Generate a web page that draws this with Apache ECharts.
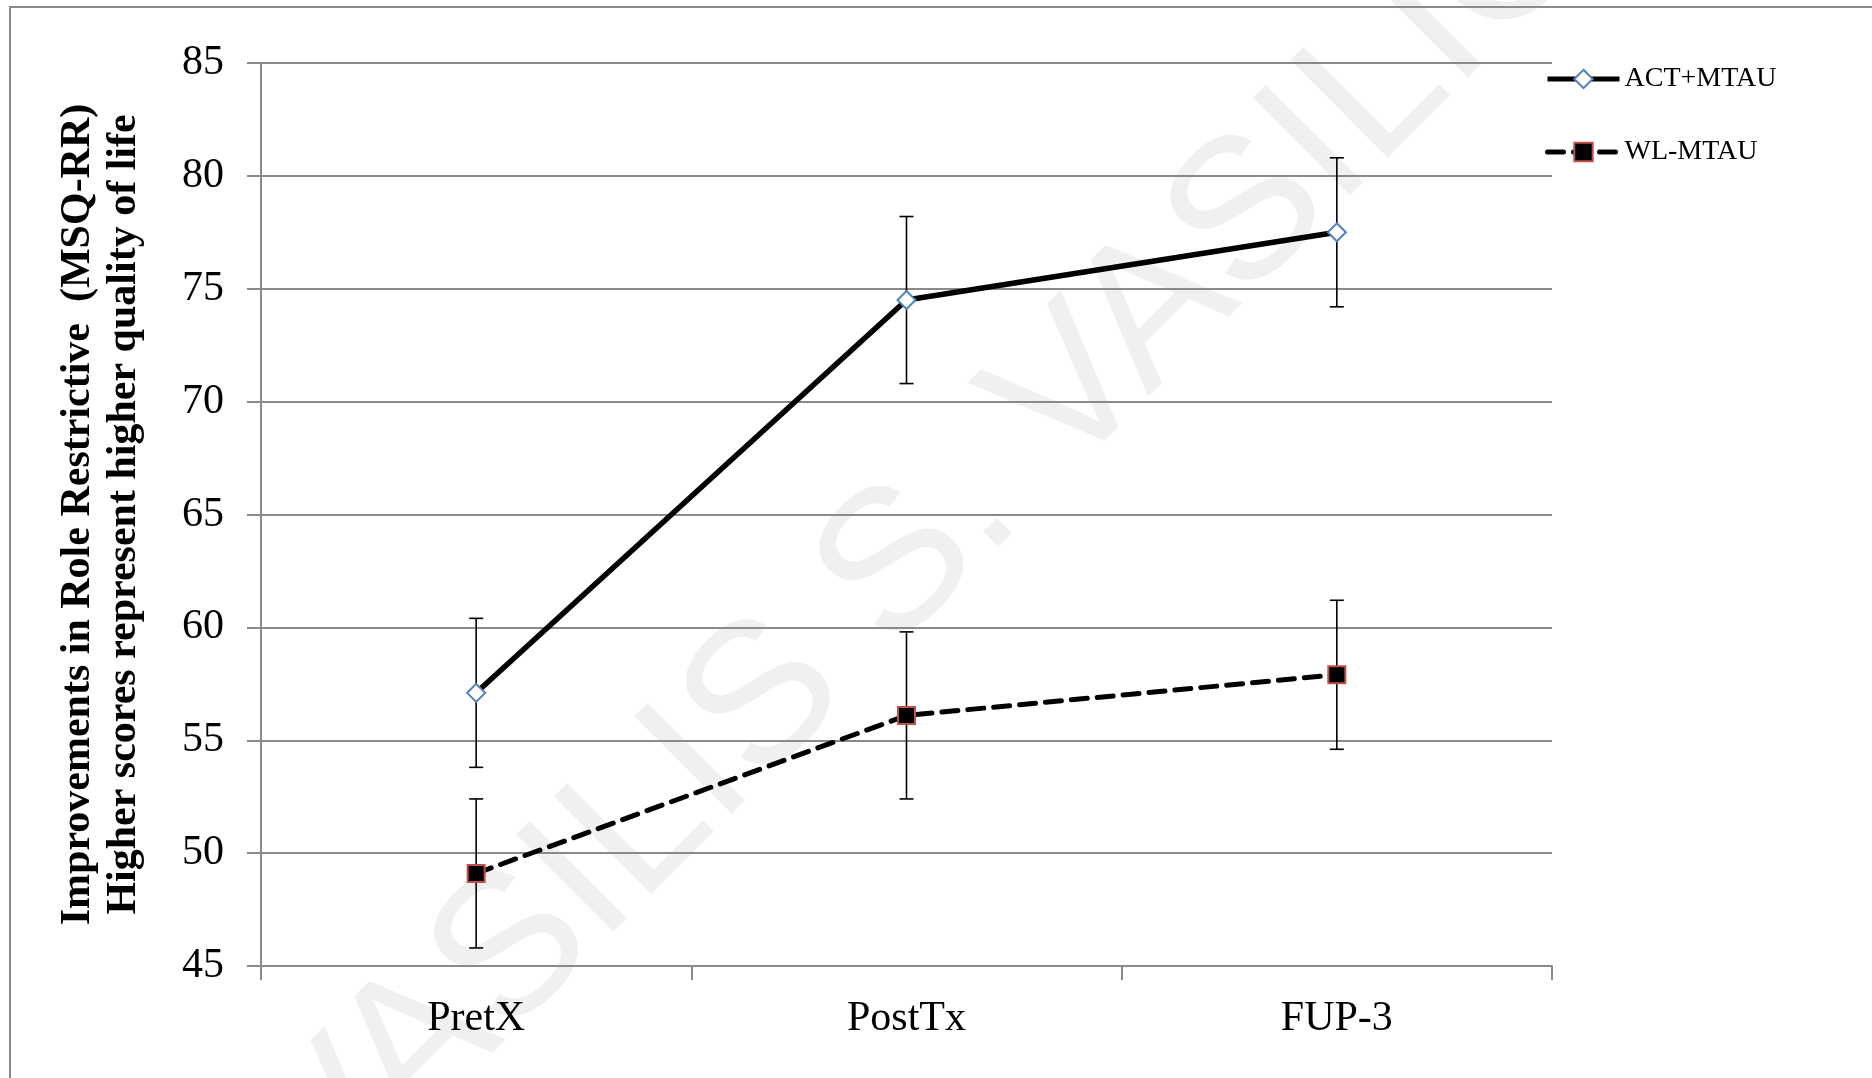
<!DOCTYPE html>
<html>
<head>
<meta charset="utf-8">
<script src="https://cdn.jsdelivr.net/npm/echarts@6/dist/echarts.min.js"></script>
<style>
  html, body { margin: 0; padding: 0; background: #fff; }
  #chart { width: 1872px; height: 1078px; }
</style>
</head>
<body>
<div id="chart"></div>
<script>
const categories = ['PretX', 'PostTx', 'FUP-3']
const actMean = [57.1, 74.5, 77.5]
const actErr = [3.3, 3.7, 3.3]
const wlMean = [49.1, 56.1, 57.9]
const wlErr = [3.3, 3.7, 3.3]
const yMin = 45
const yMax = 85
const yStep = 5

const serif = "'Liberation Serif', 'Times New Roman', serif"
const gray = '#8a8a8a'

const errData = (mean, err) => mean.map((m, i) => [i, m - err[i], m + err[i]])

const errorBars = (name, mean, err) => ({
  name: name + ' err',
  type: 'custom',
  z: 1,
  silent: true,
  encode: { x: 0, y: [1, 2] },
  data: errData(mean, err),
  renderItem: (params, api) => {
    const lo = api.coord([api.value(0), api.value(1)])
    const hi = api.coord([api.value(0), api.value(2)])
    const w = 7
    const st = { stroke: '#000', lineWidth: 1.6 }
    return {
      type: 'group',
      children: [
        { type: 'line', shape: { x1: lo[0], y1: lo[1], x2: hi[0], y2: hi[1] }, style: st },
        { type: 'line', shape: { x1: hi[0] - w, y1: hi[1], x2: hi[0] + w, y2: hi[1] }, style: st },
        { type: 'line', shape: { x1: lo[0] - w, y1: lo[1], x2: lo[0] + w, y2: lo[1] }, style: st }
      ]
    }
  }
})

const chart = echarts.init(document.getElementById('chart'))
chart.setOption({
  backgroundColor: '#fff',
  animation: false,
  graphic: [
    {
      type: 'text',
      z: -10,
      x: 978,
      y: 489,
      rotation: Math.PI / 4,
      silent: true,
      style: {
        text: 'VASILIS S. VASILIOU',
        font: "200px 'Liberation Sans', Arial, sans-serif",
        fill: '#f0f0f0',
        align: 'center',
        verticalAlign: 'middle'
      }
    },
    {
      type: 'rect',
      z: -5,
      silent: true,
      shape: { x: 10, y: 7, width: 1900, height: 1100 },
      style: { fill: 'none', stroke: gray, lineWidth: 2 }
    }
  ],
  grid: { left: 261, right: 320, top: 63, bottom: 112 },
  legend: {
    orient: 'vertical',
    left: 1540,
    top: 60,
    itemWidth: 72,
    itemHeight: 23,
    itemGap: 45,
    data: ['ACT+MTAU', 'WL-MTAU'],
    lineStyle: { width: 5 },
    textStyle: { fontFamily: serif, fontSize: 28, color: '#000' }
  },
  xAxis: {
    type: 'category',
    data: categories,
    boundaryGap: true,
    axisLine: { lineStyle: { color: gray, width: 2 } },
    axisTick: { show: true, length: 14, lineStyle: { color: gray, width: 2 } },
    axisLabel: { fontFamily: serif, fontSize: 42, color: '#000', margin: 32 }
  },
  yAxis: {
    type: 'value',
    min: yMin,
    max: yMax,
    interval: yStep,
    name: 'Improvements in Role Restrictive  (MSQ-RR)\nHigher scores represent higher quality of life',
    nameLocation: 'middle',
    nameRotate: 90,
    nameGap: 114,
    nameTextStyle: { fontFamily: serif, fontSize: 42, fontWeight: 'bold', color: '#000', lineHeight: 46 },
    axisLine: { show: true, lineStyle: { color: gray, width: 2 } },
    axisTick: { show: true, length: 14, lineStyle: { color: gray, width: 2 } },
    axisLabel: { fontFamily: serif, fontSize: 42, color: '#000', margin: 37 },
    splitLine: { lineStyle: { color: gray, width: 2 } }
  },
  series: [
    errorBars('ACT+MTAU', actMean, actErr),
    errorBars('WL-MTAU', wlMean, wlErr),
    {
      name: 'ACT+MTAU',
      type: 'line',
      z: 3,
      data: actMean,
      symbol: 'diamond',
      symbolSize: 18,
      lineStyle: { color: '#000', width: 5.5 },
      itemStyle: { color: '#fff', borderColor: '#4f81bd', borderWidth: 2 }
    },
    {
      name: 'WL-MTAU',
      type: 'line',
      z: 3,
      data: wlMean,
      symbol: 'rect',
      symbolSize: 17,
      lineStyle: { color: '#000', width: 5, type: [16, 10], cap: 'round' },
      itemStyle: { color: '#000', borderColor: '#c0504d', borderWidth: 2 }
    }
  ]
})
</script>
</body>
</html>
